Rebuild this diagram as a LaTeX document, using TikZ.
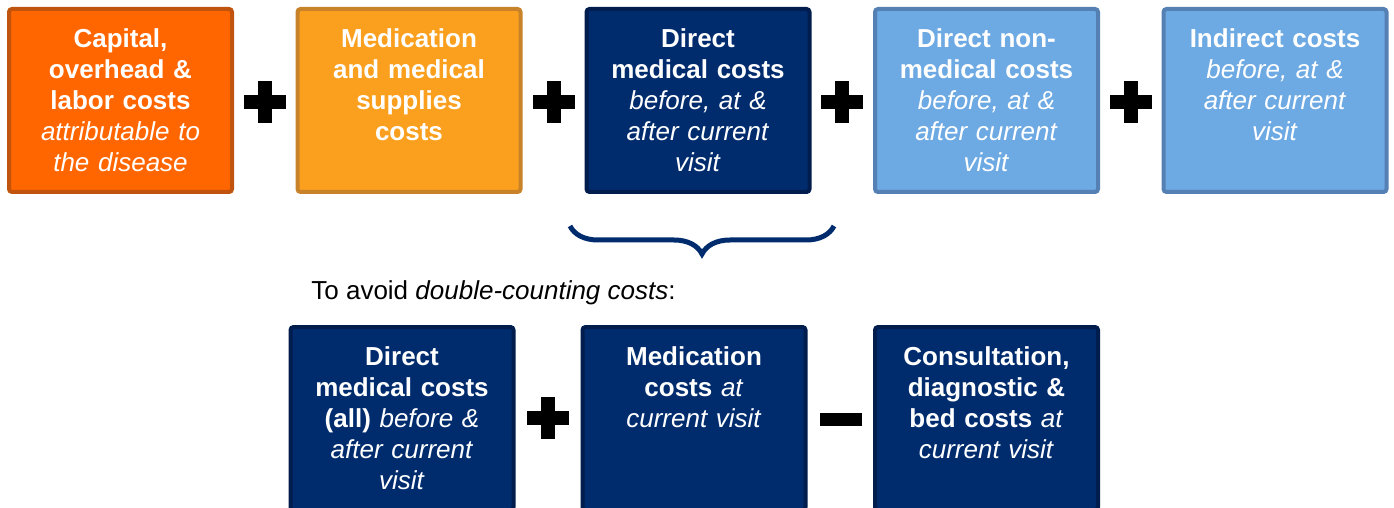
\documentclass[tikz,border=0pt]{standalone}
\usepackage{fontspec}
\setmainfont{Liberation Sans}
\usetikzlibrary{decorations.pathreplacing}
\definecolor{capfill}{HTML}{FF6600}
\definecolor{capline}{HTML}{C0540E}
\definecolor{medfill}{HTML}{FAA01E}
\definecolor{medline}{HTML}{C8832A}
\definecolor{navyfill}{HTML}{002C6E}
\definecolor{navyline}{HTML}{001D4D}
\definecolor{skyfill}{HTML}{6DA9E2}
\definecolor{skyline}{HTML}{5580B4}

\begin{document}
\begin{tikzpicture}[
  x=0.5pt, y=-0.5pt,
  costbox/.style={draw, line width=2pt, rounded corners=1.5pt,
    minimum width=111.5pt, minimum height=91.5pt, inner sep=0pt},
  boxtext/.style={anchor=north, text=white, align=center,
    text width=110pt, inner sep=0pt, yshift=-10.5pt,
    font=\fontsize{13}{15.5}\selectfont},
  plussign/.style={inner sep=0pt, minimum size=21pt,
    path picture={
      \fill ([xshift=-10.5pt,yshift=-3.5pt]path picture bounding box.center)
        rectangle ([xshift=10.5pt,yshift=3.5pt]path picture bounding box.center);
      \fill ([xshift=-3.5pt,yshift=-10.5pt]path picture bounding box.center)
        rectangle ([xshift=3.5pt,yshift=10.5pt]path picture bounding box.center);}},
  minussign/.style={fill=black, inner sep=0pt,
    minimum width=21pt, minimum height=6.5pt},
  bracket/.style={draw=navyfill, line width=2.5pt,
    decorate, decoration={brace, amplitude=14pt}},
  ]
  \useasboundingbox (0,0) rectangle (1394,508);
  \clip (0,0) rectangle (1394,508);
  % Top row
  \node[costbox, fill=capfill, draw=capline] (capital) at (120.5,100.5) {};
  \node[boxtext] at (capital.north)
    {\textbf{Capital,}\\\textbf{overhead \&}\\\textbf{labor costs}\\
     \textit{attributable to}\\\textit{the disease}};
  \node[plussign] (plusa) at (265,102) {};
  \node[costbox, fill=medfill, draw=medline] (medsupply) at (409,100.5) {};
  \node[boxtext] at (medsupply.north)
    {\textbf{Medication}\\\textbf{and medical}\\\textbf{supplies}\\\textbf{costs}};
  \node[plussign] (plusb) at (554,102) {};
  \node[costbox, fill=navyfill, draw=navyline] (directmed) at (698,100.5) {};
  \node[boxtext] at (directmed.north)
    {\textbf{Direct}\\\textbf{medical costs}\\\textit{before, at \&}\\
     \textit{after current}\\\textit{visit}};
  \node[plussign] (plusc) at (842,102) {};
  \node[costbox, fill=skyfill, draw=skyline] (nonmed) at (986.5,100.5) {};
  \node[boxtext] at (nonmed.north)
    {\textbf{Direct non-}\\\textbf{medical costs}\\\textit{before, at \&}\\
     \textit{after current}\\\textit{visit}};
  \node[plussign] (plusd) at (1131,102) {};
  \node[costbox, fill=skyfill, draw=skyline] (indirect) at (1275,100.5) {};
  \node[boxtext] at (indirect.north)
    {\textbf{Indirect costs}\\\textit{before, at \&}\\
     \textit{after current}\\\textit{visit}};
  % Brace under direct medical costs
  \draw[bracket] (834,226) -- (570,226);
  \node[anchor=west, inner sep=0pt, font=\fontsize{13}{15.5}\selectfont]
    (avoid) at (311,293) {To avoid \textit{double-counting costs}:};
  % Bottom row
  \node[costbox, fill=navyfill, draw=navyline] (allmed) at (402,418.5) {};
  \node[boxtext] at (allmed.north)
    {\textbf{Direct}\\\textbf{medical costs}\\\textbf{(all)} \textit{before \&}\\
     \textit{after current}\\\textit{visit}};
  \node[plussign] (pluse) at (548,418) {};
  \node[costbox, fill=navyfill, draw=navyline] (medvisit) at (694,418.5) {};
  \node[boxtext] at (medvisit.north)
    {\textbf{Medication}\\\textbf{costs} \textit{at}\\\textit{current visit}};
  \node[minussign] (minus) at (841,419) {};
  \node[costbox, fill=navyfill, draw=navyline] (consult) at (986.5,418.5) {};
  \node[boxtext] at (consult.north)
    {\textbf{Consultation,}\\\textbf{diagnostic \&}\\\textbf{bed costs} \textit{at}\\
     \textit{current visit}};
\end{tikzpicture}
\end{document}
